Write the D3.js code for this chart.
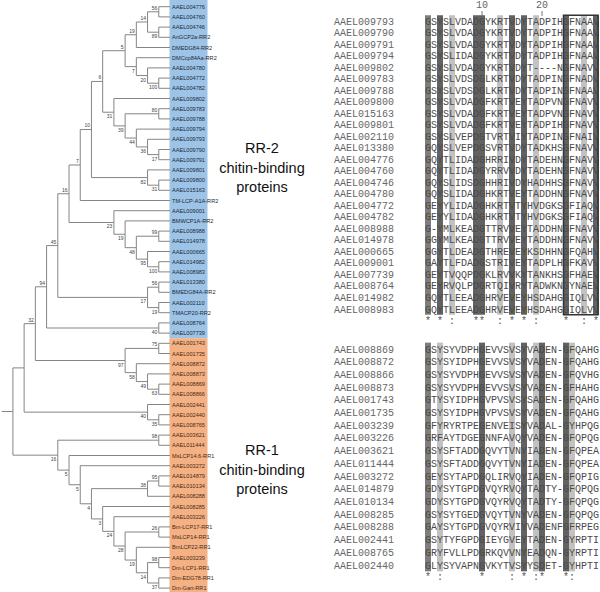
<!DOCTYPE html>
<html><head><meta charset="utf-8">
<script src="https://cdn.jsdelivr.net/npm/d3@7/dist/d3.min.js"></script>
<style>body{margin:0;background:#fff}svg{display:block}</style>
</head><body><svg id="c" width="600" height="592"></svg>
<script>
// ---------- DATA ----------
const treeNewick = "((((((((((((((AAEL004776,AAEL004760)56,(AAEL004746,AnGCP2a-RR2)89)14,DMEDG84-RR2)19,(DMCcp84Aa-RR2,(AAEL004780,(AAEL004772,AAEL004782)100)20)7)5,(AAEL009802,((AAEL009783,AAEL009788)80,(AAEL009794,(AAEL009793,(AAEL009790,AAEL009791)17)36)44)39)31)6,(AAEL009801,(AAEL009800,AAEL015163)31)82)10,TM-LCP-A1A-RR2)7,(AAEL009001,(BMWCP1A-RR2,((AAEL008988,AAEL014978)99,(AAEL000665,(AAEL014982,AAEL008983)100)95)48)19)23)16,((AAEL013380,BMEDG84A-RR2)56,(AAEL002110,TMACP20-RR2)19)17)45,(AAEL008764,AAEL007739)40)94,((AAEL001743,AAEL001735)75,(AAEL008872,(AAEL008873,(AAEL008869,AAEL008866)63)49)58)97)32,(AAEL002441,(AAEL002440,AAEL008765)35)40),((AAEL003621,AAEL011444)98,(MsLCP14.6-RR1,(AAEL003272,(((AAEL014879,AAEL010134)95,AAEL008288)38,(AAEL008285,(AAEL003226,((Bm-LCP17-RR1,MsLCP14-RR1)26,(BmLCP22-RR1,((AAEL003239,Dm-LCP1-RR1)98,(Dm-EDG78-RR1,Dm-Gart-RR1)37)14)19)28)24)3)4)5)5)16);";
const rr2BlockLeafCount = 33;

const rr2Names = ["AAEL009793","AAEL009790","AAEL009791","AAEL009794","AAEL009802","AAEL009783","AAEL009788","AAEL009800","AAEL015163","AAEL009801","AAEL002110","AAEL013380","AAEL004776","AAEL004760","AAEL004746","AAEL004780","AAEL004772","AAEL004782","AAEL008988","AAEL014978","AAEL000665","AAEL009001","AAEL007739","AAEL008764","AAEL014982","AAEL008983"];
const rr2Seqs = ["GSYSLVDADGYKRTVDYTADPIHGFNAAV","GSYSLVDADGYKRTVDYTADPIHGFNAAV","GSYSLVDADGYKRTVDYTADPIHGFNAAV","GSYSLIDADGYKRTVDYTADPIHGFNAAV","GSYSLVDADGYKRTVDYT----NGFNAVV","GSYSLVDSDGLKRTVDYTADPINGFNADV","GSYSLVDSDGLKRTVDYTADPINGFNAAV","GSYSLVDADGFKRTVEYTADPVNGFNAVV","GSYSLVDADGFKRTVEYTADPVNGFNAVV","GSYSLVDADGFKRTVEYTADPIHGFNAVV","GSYSLVEPDGTVRTVIYTADPINGFNAIV","GQYSLVEPDGSVRTVDYTADKHSGFNAVV","GQYTLIDADGHRRIVDYTADEHNGFNAVV","GQYTLIDADGYRRVVDYTADEHNGFNAVV","GQYSLIDSDGHHRIVDYHADHHSGFNAVV","GQYSLIDADGHKRTVEYTADDHNGFNAVV","GEYYLIDADGHKRTVTYHVDGKSGFIAQV","GEYYLIDADGHKRTVTYHVDGKSGFIAQV","G-YMLKEADGTTRVVEYTADDHNGFNAVV","GGYMLKEADGTTRVVEYTADDHNGFNAVV","GGYTLDEADGTHREVEYKSDHHNGFQAHV","GAYTLFDADGSTRIVEYTADPLHGFKAVV","GEYTVQQPDGKLRVVKYTANKHSGFHAEV","GEYRVQLPDGRTQIVRYTADWKNGYNAEV","GQYTLEEADGHRVEVEYHSDAHGGIQLVV","GQYTLEEADGHRVEVEYHSDAHGGIQLVV"];
const rr1Names = ["AAEL008869","AAEL008872","AAEL008866","AAEL008873","AAEL001743","AAEL001735","AAEL003239","AAEL003226","AAEL003621","AAEL011444","AAEL003272","AAEL014879","AAEL010134","AAEL008285","AAEL008288","AAEL002441","AAEL008765","AAEL002440"];
const rr1Seqs = ["GSYSYVDPHGEVVSVSYVADEN-GFQAHG","GSYSYIDPHGEVVSVSYVADEN-GFQAHG","GSYSYVDPHGEVVSVSYVADEN-GFQVHG","GSYSYVDPHGEVVSVSYVADEN-GFHAHG","GTYSYIDPHGVPVSVSYSADEN-GFQAHG","GSYSYIDPHGVPVSVSYVADEN-GFQAHG","GFYRYRTPEGENVEISYVADAL-GYHPQG","GRFAYTDGEGNNFAVQYVADEN-GFQPQG","GSYSFTADDGQVYTVNYIADEN-GFQPEA","GSYSFTADDGQVYTVNYIADEN-GFQPEA","GEYSYTAPDGQLIRVQYIADEN-GFQPIG","GDYSYTGPDGVQYRVQYTADTY-GFQPQG","GDYSYTGPDGVQYRVQYTADTY-GFQPQG","GSYSYTGEDGVQYTVNYVADEN-GFQPQG","GAYSYTGPDGVQYRVIYVADENFGFRPEG","GSYTYFGPDGIEYGVEYTADEN-GYRPTI","GRYFVLLPDGRKQVVNYEADQN-GYRPTI","GLYSYVAPNGVKYTVSYYSDET-GYHPTI"];
const rr2Cons = "* * :   **  : * * :    *  : *";
const rr1Cons = "* :      *    : * :*   *:    ";
const rr2DarkCols = [1,3,9,10,15,17,24,29];
const rr2LightCols = [5,13,19,27];
const rr1DarkCols = [1,10,17,20,24];
const rr1LightCols = [3,15,19,25];
const rulerTicks = [10,20];
const rr2Label = ["RR-2","chitin-binding","proteins"];
const rr1Label = ["RR-1","chitin-binding","proteins"];

// ---------- PARSE ----------
function parseNewick(s){
  let i=0;
  function node(){
    const n={name:""};
    if(s[i]==="("){
      i++; n.children=[];
      while(true){ n.children.push(node()); if(s[i]===","){i++;} else break; }
      i++;
    }
    let t=""; while(i<s.length && !"(),;".includes(s[i])) t+=s[i++];
    n.name=t.trim(); return n;
  }
  return node();
}

const svg=d3.select("#c");
const root=d3.hierarchy(parseNewick(treeNewick));
d3.cluster().size([1,1]).separation(()=>1)(root);
const leaves=root.leaves();
const yS=d3.scaleLinear().domain(d3.extent(leaves,d=>d.x)).range([6.7,588.1]);
const xS=d3.scaleLinear().domain([0,1]).range([1.7,170]);
const split=(yS(leaves[rr2BlockLeafCount-1].x)+yS(leaves[rr2BlockLeafCount].x))/2;

svg.append("rect").attr("x",169.5).attr("y",0).attr("width",38).attr("height",split).attr("fill","#9dc3e6");
svg.append("rect").attr("x",169.5).attr("y",split).attr("width",38).attr("height",592-split).attr("fill","#f4b183");

const g=svg.append("g");
const lc="#858585";
root.descendants().forEach(n=>{
  if(n.parent){
    g.append("line").attr("x1",xS(n.parent.y)).attr("x2",xS(n.y)).attr("y1",yS(n.x)).attr("y2",yS(n.x)).attr("stroke",lc).attr("stroke-width",1);
  }
  if(n.children){
    const c=n.children;
    g.append("line").attr("x1",xS(n.y)).attr("x2",xS(n.y)).attr("y1",yS(c[0].x)).attr("y2",yS(c[c.length-1].x)).attr("stroke",lc).attr("stroke-width",1);
    if(n.parent && n.data.name){
      const upper = n.parent.children[0]===n;
      g.append("text").attr("x",xS(n.y)-1.5).attr("y",yS(n.x)+(upper?-2:6))
        .attr("text-anchor","end").attr("font-family","Liberation Sans, Arial, sans-serif")
        .attr("font-size",5).attr("fill","#444").text(n.data.name);
    }
  }
});
leaves.forEach((n,k)=>{
  g.append("text").attr("x",172).attr("y",yS(n.x)+2)
   .attr("font-family","Liberation Sans, Arial, sans-serif").attr("font-size",5.6)
   .attr("fill",k<rr2BlockLeafCount?"#1c2a3a":"#4a2a18").text(n.data.name);
});

function groupLabel(lines,cx,y0){
  lines.forEach((t,k)=>svg.append("text").attr("x",cx).attr("y",y0+k*19.5).attr("text-anchor","middle")
    .attr("font-family","Liberation Sans, Arial, sans-serif").attr("font-size",14.5).attr("fill","#111").text(t));
}
groupLabel(rr2Label,262,153);
groupLabel(rr1Label,262,455);

const colX=d3.scaleBand().domain(d3.range(1,30)).range([425,599]);
const bw=colX.bandwidth();
const mono="Liberation Mono, Courier New, monospace";
function block(names,seqs,dark,light,cons,y0,y1,boxCols){
  const rY=d3.scaleLinear().domain([0,names.length-1]).range([y0,y1]);
  const h=(y1-y0)/(names.length-1);
  const top=rY(0)-h/2, bot=rY(names.length-1)+h/2;
  light.forEach(c=>svg.append("rect").attr("x",colX(c)).attr("y",top).attr("width",bw).attr("height",bot-top).attr("fill","#c2c2c2"));
  dark.forEach(c=>svg.append("rect").attr("x",colX(c)).attr("y",top).attr("width",bw).attr("height",bot-top).attr("fill",c===1?"#7e7e7e":"#626262"));
  if(boxCols){
    svg.append("rect").attr("x",colX(boxCols[0])+0.5).attr("y",top).attr("width",colX(boxCols[1])+bw-colX(boxCols[0])-1.5).attr("height",bot-top)
      .attr("fill","none").attr("stroke","#333").attr("stroke-width",1.5);
  }
  names.forEach((nm,r)=>{
    svg.append("text").attr("x",334).attr("y",rY(r)+3.5).attr("font-family",mono).attr("font-size",10).attr("fill","#666").text(nm);
    seqs[r].split("").forEach((ch,j)=>{
      svg.append("text").attr("x",colX(j+1)+bw/2).attr("y",rY(r)+3.5).attr("text-anchor","middle")
        .attr("font-family",mono).attr("font-size",10).attr("fill","#4a4a4a").text(ch);
    });
  });
  cons.split("").forEach((ch,j)=>{
    if(ch!==" ") svg.append("text").attr("x",colX(j+1)+bw/2).attr("y",bot+9).attr("text-anchor","middle")
      .attr("font-family",mono).attr("font-size",10).attr("fill","#555").text(ch);
  });
}
rulerTicks.forEach(t=>{
  svg.append("text").attr("x",colX(t)+bw/2).attr("y",8).attr("text-anchor","middle").attr("font-family",mono).attr("font-size",10).attr("fill","#666").text(t);
  svg.append("line").attr("x1",colX(t)+bw/2).attr("x2",colX(t)+bw/2).attr("y1",11).attr("y2",16).attr("stroke","#777");
});
block(rr2Names,rr2Seqs,rr2DarkCols,rr2LightCols,rr2Cons,21,309,[24,29]);
block(rr1Names,rr1Seqs,rr1DarkCols,rr1LightCols,rr1Cons,349,565);
</script></body></html>
